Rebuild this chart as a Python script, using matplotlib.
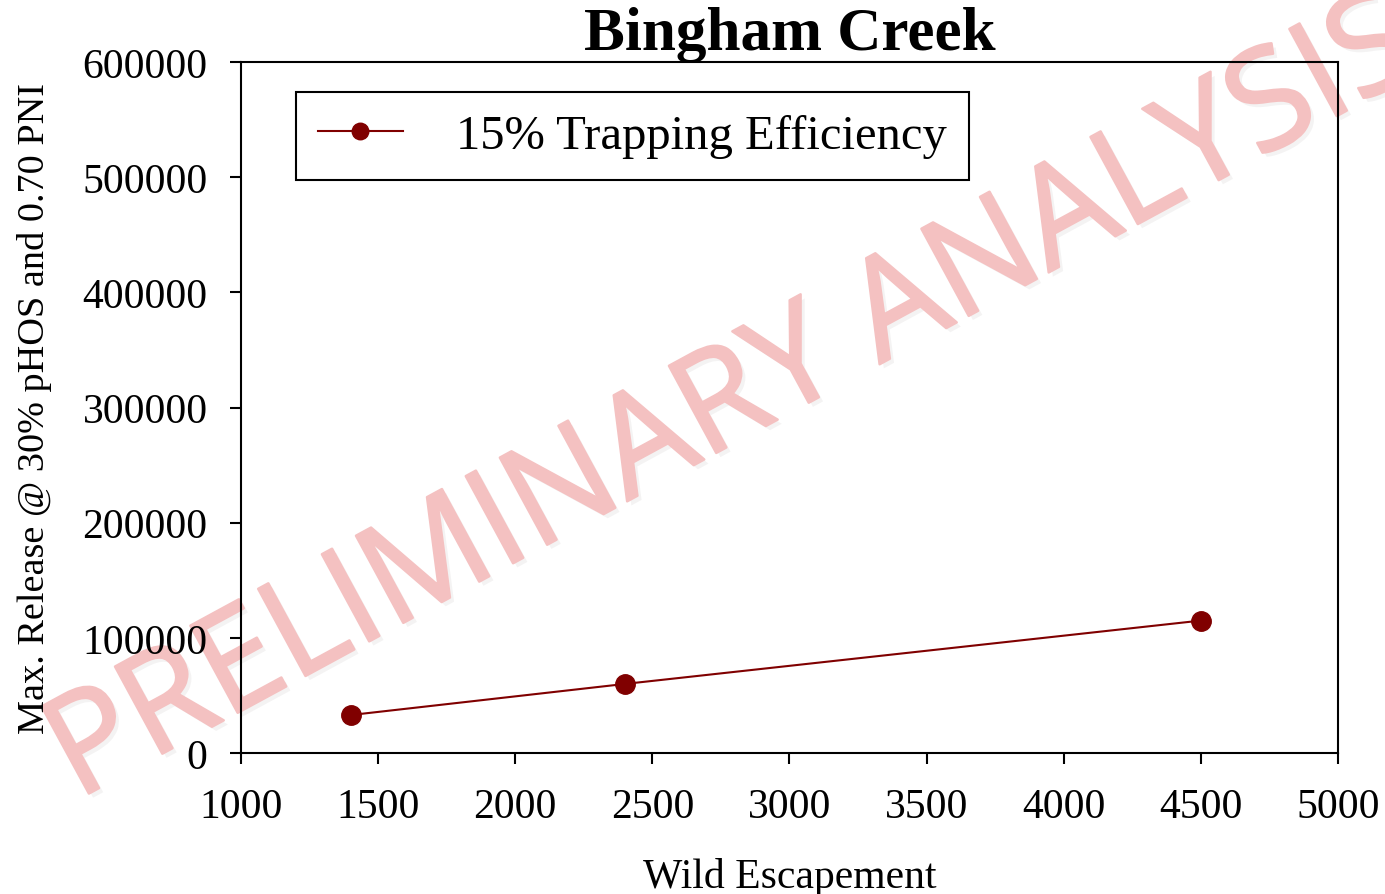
import matplotlib.pyplot as plt
import matplotlib.patheffects as pe

# data
escapement = [1400, 2400, 4500]
max_release = [33000, 60000, 115000]
series_name = '15% Trapping Efficiency'
x_ticks = [1000, 1500, 2000, 2500, 3000, 3500, 4000, 4500, 5000]
y_ticks = [0, 100000, 200000, 300000, 400000, 500000, 600000]

plt.rcParams['font.family'] = ['Liberation Serif', 'DejaVu Serif']

fig = plt.figure(figsize=(13.85, 8.95), dpi=100)
ax = fig.add_axes([0.174, 0.1575, 0.792, 0.7721])
ax.set_facecolor('none')  # let the watermark show through

ax.plot(escapement, max_release, color='#800000', lw=1.5, marker='o',
        markersize=14, label=series_name, zorder=3)

ax.set_xlim(1000, 5000)
ax.set_ylim(0, 600000)
ax.set_xticks(x_ticks)
ax.set_yticks(y_ticks)
ax.tick_params(direction='out', length=8, width=1.5, labelsize=30,
               top=False, right=False)
ax.tick_params(axis='y', pad=16)
ax.tick_params(axis='x', pad=17)
for s in ax.spines.values():
    s.set_linewidth(1.5)

ax.set_title('Bingham Creek', fontsize=44, fontweight='bold', pad=4)
ax.set_xlabel('Wild Escapement', fontsize=30, labelpad=22)
ax.set_ylabel('Max. Release @ 30% pHOS and 0.70 PNI', fontsize=27.5,
              labelpad=22)

leg = ax.legend(loc='upper left', bbox_to_anchor=(0.05, 0.957), fontsize=35,
                frameon=True, fancybox=False, edgecolor='black', framealpha=1,
                handlelength=1.75, handletextpad=1.1, borderpad=0.45,
                borderaxespad=0, markerscale=0.85)
leg.get_frame().set_linewidth(1.5)

# watermark behind the chart, anchored at the start of its baseline
wm_color = '#f4c1c1'
fig.text(0.0556, 0.105, 'PRELIMINARY ANALYSIS', fontsize=100,
         family='Open Sans', color=wm_color,
         rotation=28.5, rotation_mode='anchor', ha='left', va='baseline',
         zorder=-1,
         path_effects=[pe.withSimplePatchShadow(offset=(3, -3), alpha=0.06),
                       pe.Stroke(linewidth=1.8, foreground=wm_color),
                       pe.Normal()])

fig.savefig('out.png', dpi=100)
